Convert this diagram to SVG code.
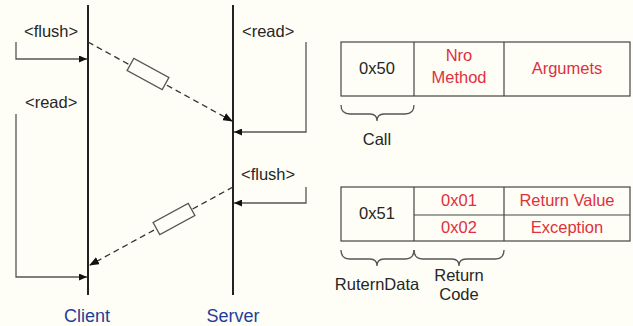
<svg xmlns="http://www.w3.org/2000/svg" width="633" height="326" viewBox="0 0 633 326">
<defs>
<style>
.t{font-family:"Liberation Sans",Arial,sans-serif;font-size:16.5px;fill:#262626}
.r{font-family:"Liberation Sans",Arial,sans-serif;font-size:16.5px;fill:#e0303e}
.lbl{font-family:"Liberation Sans",Arial,sans-serif;font-size:18px;fill:#1f3f9a}
.ln{stroke:#222;stroke-width:2;fill:none}
.th{stroke:#555;stroke-width:1.3;fill:none}
.ds{stroke:#333;stroke-width:1.3;stroke-dasharray:6,4;fill:none}
.bx{stroke:#555;stroke-width:1.3;fill:#fefef6}
.tb{stroke:#444;stroke-width:1.2;fill:#fefef6}
</style>
<marker id="ah" markerWidth="10" markerHeight="8" refX="9" refY="4" orient="auto" markerUnits="userSpaceOnUse">
<path d="M0,0 L10,4 L0,8 z" fill="#111"/>
</marker>
<marker id="ahs" markerWidth="8" markerHeight="7" refX="8" refY="3.5" orient="auto" markerUnits="userSpaceOnUse">
<path d="M0,0 L8,3.5 L0,7 z" fill="#111"/>
</marker>
</defs>
<rect width="633" height="326" fill="#fefef6"/>

<g id="client">
<line class="ln" x1="88" y1="5" x2="88" y2="295"/>
<text class="lbl" x="87" y="322" text-anchor="middle">Client</text>
</g>
<g id="server">
<line class="ln" x1="233" y1="5" x2="233" y2="295"/>
<text class="lbl" x="233" y="322" text-anchor="middle">Server</text>
</g>

<g id="labels">
<text class="t" x="24" y="37">&lt;flush&gt;</text>
<text class="t" x="25" y="108">&lt;read&gt;</text>
<text class="t" x="242" y="37">&lt;read&gt;</text>
<text class="t" x="241" y="180">&lt;flush&gt;</text>
</g>

<g id="connectors">
<polyline class="th" points="16,42 16,59 87,59" marker-end="url(#ahs)"/>
<polyline class="th" points="16,114 16,277 87,277" marker-end="url(#ahs)"/>
<polyline class="th" points="306,42 306,132 234,132" marker-end="url(#ahs)"/>
<polyline class="th" points="306,187 306,203 234,203" marker-end="url(#ahs)"/>
<line class="ds" x1="88" y1="42" x2="232" y2="121" marker-end="url(#ah)"/>
<line class="ds" x1="233" y1="187" x2="90" y2="265" marker-end="url(#ah)"/>
<rect class="bx" x="-20" y="-7" width="40" height="14" transform="translate(148,74) rotate(28.6)"/>
<rect class="bx" x="-20" y="-7" width="40" height="14" transform="translate(174,219) rotate(-28.6)"/>
</g>

<g id="call-table">
<rect class="tb" x="341" y="42" width="289" height="54"/>
<line class="tb" x1="414" y1="42" x2="414" y2="96"/>
<line class="tb" x1="504" y1="42" x2="504" y2="96"/>
<text class="t" x="377" y="74" text-anchor="middle">0x50</text>
<text class="r" x="459" y="61" text-anchor="middle">Nro</text>
<text class="r" x="459" y="83" text-anchor="middle">Method</text>
<text class="r" x="567" y="74" text-anchor="middle">Argumets</text>
<path class="th" d="M341,105 Q341,114 350,114 L370,114 Q377,114 377,121 Q377,114 384,114 L405,114 Q414,114 414,105"/>
<text class="t" x="377" y="145" text-anchor="middle">Call</text>
</g>

<g id="return-table">
<rect class="tb" x="341" y="187" width="289" height="54"/>
<line class="tb" x1="414" y1="187" x2="414" y2="241"/>
<line class="tb" x1="504" y1="187" x2="504" y2="241"/>
<line class="tb" x1="414" y1="215" x2="630" y2="215"/>
<text class="t" x="377" y="219" text-anchor="middle">0x51</text>
<text class="r" x="459" y="206" text-anchor="middle">0x01</text>
<text class="r" x="459" y="233" text-anchor="middle">0x02</text>
<text class="r" x="567" y="206" text-anchor="middle">Return Value</text>
<text class="r" x="567" y="233" text-anchor="middle">Exception</text>
<path class="th" d="M341,250 Q341,259 350,259 L370,259 Q377,259 377,266 Q377,259 384,259 L405,259 Q414,259 414,250"/>
<path class="th" d="M414,250 Q414,259 423,259 L452,259 Q459,259 459,266 Q459,259 466,259 L495,259 Q504,259 504,250"/>
<text class="t" x="377" y="290" text-anchor="middle">RuternData</text>
<text class="t" x="459" y="281" text-anchor="middle">Return</text>
<text class="t" x="459" y="300" text-anchor="middle">Code</text>
</g>
</svg>
